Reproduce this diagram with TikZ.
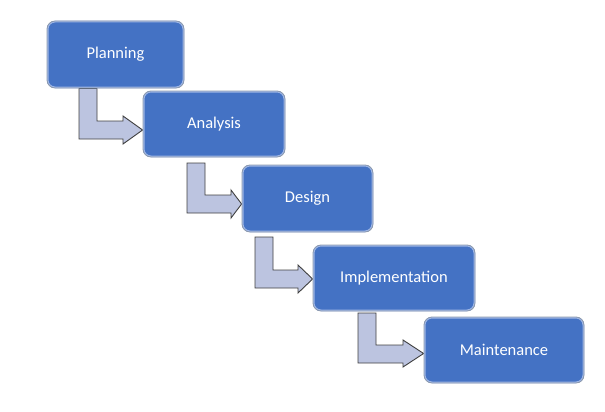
\documentclass[tikz,border=0pt]{standalone}
\usepackage{fontspec}
\setmainfont{Carlito}
\usetikzlibrary{backgrounds,calc}
\definecolor{boxfill}{HTML}{4472C4}
\definecolor{boxedge}{HTML}{8C99AE}
\definecolor{boxhl}{HTML}{9DB5E5}
\definecolor{arrfill}{HTML}{BCC4E0}
\definecolor{arredge}{HTML}{404040}
\tikzset{
  stage/.style={rectangle, rounded corners=8pt, fill=boxfill, draw=boxedge, line width=0.8pt,
    inner sep=0pt, text=white, font=\fontsize{16.5}{20}\selectfont,
    path picture={\draw[boxhl, line width=3pt, rounded corners=8pt]
      (path picture bounding box.south west) rectangle (path picture bounding box.north east);}},
  barrow/.style={fill=arrfill, draw=arredge, line width=0.9pt, line join=miter}
}
\begin{document}
\begin{tikzpicture}[x=1pt,y=-1pt]
\useasboundingbox (0,0) rectangle (605,412);
\node[stage, minimum width=137pt, minimum height=67pt] (P) at (115.5,54.5) {Planning};
\node[stage, minimum width=142pt, minimum height=66pt] (A) at (214,124) {Analysis};
\node[stage, minimum width=131pt, minimum height=67pt] (D) at (307.5,198.5) {Design};
\node[stage, minimum width=162pt, minimum height=66pt] (I) at (394,278) {Implementation};
\node[stage, minimum width=160pt, minimum height=66pt] (M) at (504,350) {Maintenance};
\begin{scope}[on background layer]
% Planning -> Analysis
\path let \p1=(P.south), \p2=(A.west) in
  [barrow] (79,\y1) -- (79,139) -- (123,139) -- (123,144) -- (\x2,130)
  -- (123,116) -- (123,121) -- (97,121) -- (97,\y1) -- cycle;
% Analysis -> Design
\path let \p1=(A.south), \p2=(D.west) in
  [barrow] (187,163) -- (187,213) -- (231,213) -- (231,218) -- (\x2,204)
  -- (231,190) -- (231,195) -- (205,195) -- (205,163) -- cycle;
% Design -> Implementation
\path let \p1=(D.south), \p2=(I.west) in
  [barrow] (255,237) -- (255,288) -- (298,288) -- (298,293) -- (\x2,279)
  -- (298,265) -- (298,270) -- (273,270) -- (273,237) -- cycle;
% Implementation -> Maintenance
\path let \p1=(I.south), \p2=(M.west) in
  [barrow] (358,313) -- (358,363) -- (403,363) -- (403,367) -- (\x2,353.5)
  -- (403,340) -- (403,345) -- (376,345) -- (376,313) -- cycle;
\end{scope}
\end{tikzpicture}
\end{document}
